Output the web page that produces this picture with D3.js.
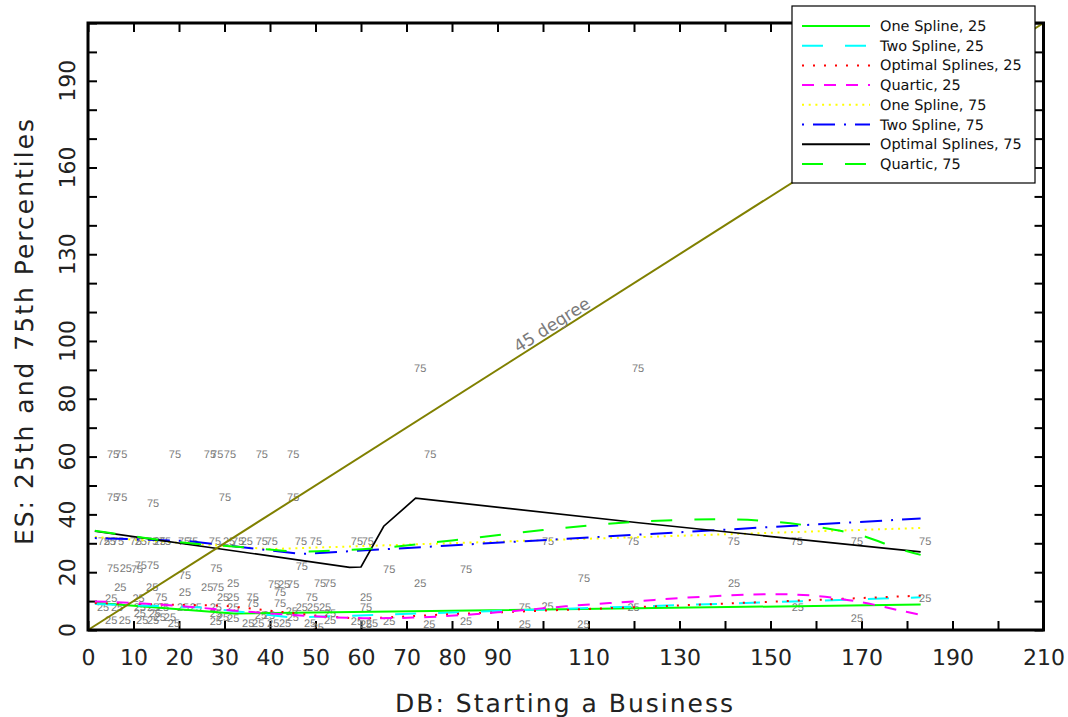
<!DOCTYPE html>
<html><head><meta charset="utf-8">
<script src="https://cdn.jsdelivr.net/npm/d3@7"></script>
<style>body{margin:0;background:#fff} svg{display:block} text{text-rendering:geometricPrecision}</style>
</head><body><svg id="c" width="1068" height="717"></svg>
<script>
// ---------- data ----------
const xTickLabels = [0,10,20,30,40,50,60,70,80,90,110,130,150,170,190,210];
const yTickLabels = [0,20,40,60,80,100,130,160,190];
const xTitle = "DB: Starting a Business";
const yTitle = "ES: 25th and 75th Percentiles";
const legendNames = ["One Spline, 25","Two Spline, 25","Optimal Splines, 25","Quartic, 25",
                     "One Spline, 75","Two Spline, 75","Optimal Splines, 75","Quartic, 75"];

const oneSpline25X = [1.5, 32, 183];
const oneSpline25Y = [9.4, 5.7, 8.8];
const twoSpline25X = [1.5, 25, 45, 183];
const twoSpline25Y = [9.0, 7.8, 4.3, 11.3];
const optSpline25X = [1.5, 30, 50, 60, 80, 127, 183];
const optSpline25Y = [9.3, 8.4, 5.0, 3.9, 5.5, 8.3, 11.9];
const quartic25X = [1.5, 15, 30, 45, 60, 75, 90, 105, 120, 135, 150, 160, 170, 178, 183];
const quartic25Y = [9.9, 8.9, 7.0, 5.2, 4.1, 4.5, 6.1, 8.2, 9.9, 11.5, 12.4, 11.8, 9.6, 6.9, 5.2];
const oneSpline75X = [1.5, 40, 183];
const oneSpline75Y = [32.2, 28.0, 35.3];
const twoSpline75X = [1.5, 22, 47, 183];
const twoSpline75Y = [31.8, 30.8, 26.3, 38.6];
const optSpline75X = [1.5, 57.5, 60, 65, 72, 121, 183];
const optSpline75Y = [34.2, 21.7, 21.8, 35.9, 45.6, 37.1, 27.0];
const quartic75X = [1.5, 20, 35, 45, 55, 65, 80, 100, 120, 140, 150, 160, 170, 178, 183];
const quartic75Y = [34.3, 30.4, 28.5, 27.2, 27.5, 28.5, 31.0, 34.6, 37.4, 38.3, 37.6, 35.7, 32.7, 28.2, 26.0];

const diagonal = [0, 210];

const labels75 = [
 [5.5,60.7],[7.3,60.7],[19.1,60.7],[26.8,60.7],[28.4,60.7],[31.2,60.7],[38.2,60.7],[45.1,60.7],[75.2,60.7],
 [5.5,45.9],[7.3,45.9],[30.1,45.9],[45.1,45.9],[14.3,43.9],
 [73.0,90.7],[120.9,90.7],
 [3.5,30.7],[6.6,30.7],[10.5,30.7],[14.1,30.7],[16.9,30.7],[21.1,30.7],[22.9,30.7],[27.9,30.7],[33.0,30.7],
 [38.2,30.7],[40.4,30.7],[46.8,30.7],[50.1,30.7],[59.1,30.7],[61.5,30.7],[101.1,30.7],[119.8,30.7],
 [141.9,30.7],[155.8,30.7],[169.0,30.7],[184.0,30.7],
 [5.5,21.4],[10.8,21.0],[11.6,22.4],[14.3,22.4],[21.3,19.0],[28.2,21.3],[47.0,22.1],[66.2,21.0],[83.1,21.0],[109.0,17.9],
 [28.6,14.9],[16.1,11.5],[36.2,11.5],[49.2,11.5],[36.2,9.3],[42.2,9.3],[61.1,8.0],[96.0,8.0],
 [40.9,15.9],[45.1,15.9],[51.0,16.2],[53.2,16.2],[42.2,13.2]
];
const labels25 = [
 [4.8,30.7],[11.6,30.7],[15.8,30.7],[31.0,30.7],[34.9,30.7],
 [8.3,21.4],
 [7.1,14.9],[14.1,14.8],[21.3,13.2],[26.2,14.8],[31.9,16.2],[43.1,15.9],[73.0,16.1],[142.0,16.1],
 [5.1,10.9],[11.1,10.9],[29.7,11.5],[31.9,11.5],[61.1,11.5],[184.0,11.1],
 [3.3,8.0],[6.4,8.0],[11.4,8.0],[14.3,8.0],[16.5,8.0],[20.9,8.0],[23.7,8.0],[28.1,8.0],[31.9,8.0],
 [47.0,8.0],[49.5,8.0],[52.1,8.0],[101.0,8.3],[119.9,8.0],[156.0,8.0],[44.8,6.6],
 [11.4,5.7],[14.7,5.7],[28.1,5.9],[53.2,5.8],[38.0,5.3],[39.8,5.3],[45.0,4.6],
 [5.1,3.4],[8.1,3.4],[11.9,3.4],[14.3,3.4],[15.8,4.5],[18.0,4.5],[18.9,2.4],[28.1,2.9],[29.7,4.6],
 [31.9,4.1],[35.2,2.4],[37.4,2.4],[40.7,2.4],[43.3,2.4],[48.8,2.4],[50.5,0.9],[53.2,3.4],[59.1,2.9],
 [61.1,2.1],[62.4,2.4],[66.2,3.1],[75.0,2.1],[83.1,2.9],[96.0,2.1],[108.9,2.1],[169.0,4.0]
];

// ---------- styles ----------
const seriesData = [
 {xs: oneSpline25X, ys: oneSpline25Y, color:"#00ff00", dash:null, w:2, curve:"linear"},
 {xs: twoSpline25X, ys: twoSpline25Y, color:"#00ffff", dash:"21,22", w:2, curve:"linear"},
 {xs: optSpline25X, ys: optSpline25Y, color:"#ff0000", dash:"2,9", w:2, curve:"linear"},
 {xs: quartic25X, ys: quartic25Y, color:"#ff00ff", dash:"12,10", w:2, curve:"smooth"},
 {xs: oneSpline75X, ys: oneSpline75Y, color:"#ffff00", dash:"2,4.7", w:2, curve:"linear"},
 {xs: twoSpline75X, ys: twoSpline75Y, color:"#0000ff", dash:"2,9,22,9", w:2, curve:"linear"},
 {xs: optSpline75X, ys: optSpline75Y, color:"#000000", dash:null, w:1.7, curve:"linear"},
 {xs: quartic75X, ys: quartic75Y, color:"#00ff00", dash:"21,22", w:2, curve:"smooth"}
];

const svg = d3.select("#c");
const x = d3.scaleLinear().domain([0,210]).range([88,1043.5]);
const y = d3.scaleLinear().domain([0,210]).range([630,23]);
const FONT = "DejaVu Sans, sans-serif";

// tick marks on all four sides (inward)
const tickVals = d3.range(0,211,10);
const bottomTicks = svg.append("g").attr("transform","translate(0,630)")
  .call(d3.axisBottom(x).tickValues(tickVals).tickSize(-9).tickFormat(""));
const topTicks = svg.append("g").attr("transform","translate(0,23)")
  .call(d3.axisTop(x).tickValues(tickVals).tickSize(-9).tickFormat(""));
const leftTicks = svg.append("g").attr("transform","translate(88,0)")
  .call(d3.axisLeft(y).tickValues(tickVals).tickSize(-9).tickFormat(""));
const rightTicks = svg.append("g").attr("transform","translate(1043.5,0)")
  .call(d3.axisRight(y).tickValues(tickVals).tickSize(-9).tickFormat(""));
[bottomTicks,topTicks,leftTicks,rightTicks].forEach(g=>{
  g.select(".domain").remove();
  g.selectAll(".tick line").attr("stroke","#000").attr("stroke-width",2);
});

// x tick labels
const xLab = svg.append("g").attr("transform","translate(0,630)")
  .call(d3.axisBottom(x).tickValues(xTickLabels).tickSize(0).tickPadding(19).tickFormat(d3.format("d")));
xLab.select(".domain").remove();
xLab.selectAll("text").attr("font-family",FONT).attr("font-size",22).attr("fill","#222");

// y tick labels (rotated)
svg.append("g").selectAll("text").data(yTickLabels).join("text")
  .attr("transform", d=>`translate(75,${y(d)}) rotate(-90)`)
  .attr("text-anchor","middle").attr("font-family",FONT).attr("font-size",22).attr("fill","#222")
  .text(d=>d);

// titles
svg.append("text").attr("x",565).attr("y",712).attr("text-anchor","middle")
  .attr("font-family",FONT).attr("font-size",25).attr("fill","#222").attr("letter-spacing",2).text(xTitle);
svg.append("text").attr("transform","translate(33,331) rotate(-90)").attr("text-anchor","middle")
  .attr("font-family",FONT).attr("font-size",25).attr("fill","#222").attr("letter-spacing",2).text(yTitle);

// point labels
const lab = svg.append("g").attr("font-family","Liberation Sans, Arial, sans-serif")
  .attr("font-size",11).attr("fill","#7a7a7a").attr("text-anchor","middle");
lab.selectAll("text.l25").data(labels25).join("text").attr("class","l25")
  .attr("x",d=>x(d[0])).attr("y",d=>y(d[1])).attr("dy","0.35em").text("25");
lab.selectAll("text.l75").data(labels75).join("text").attr("class","l75")
  .attr("x",d=>x(d[0])).attr("y",d=>y(d[1])).attr("dy","0.35em").text("75");

// fitted lines
seriesData.forEach(s=>{
  const pts = s.xs.map((v,i)=>[v,s.ys[i]]);
  const line = d3.line().x(d=>x(d[0])).y(d=>y(d[1]))
    .curve(s.curve==="smooth" ? d3.curveCatmullRom.alpha(0.5) : d3.curveLinear);
  svg.append("path").attr("d",line(pts)).attr("fill","none")
    .attr("stroke",s.color).attr("stroke-width",s.w)
    .attr("stroke-dasharray",s.dash);
});

// 45 degree line
svg.append("path").attr("d", d3.line().x(d=>x(d)).y(d=>y(d))(diagonal))
  .attr("stroke","#808000").attr("stroke-width",2).attr("fill","none");
const ang = -Math.atan2(y(0)-y(1), x(1)-x(0))*180/Math.PI;
svg.append("text").attr("transform",`translate(${x(103)},${y(103)}) rotate(${ang}) translate(0,-3)`)
  .attr("text-anchor","middle").attr("font-family",FONT).attr("font-size",17).attr("fill","#7a7a7a")
  .text("45 degree");

// frame
svg.append("rect").attr("x",x(0)).attr("y",y(210)).attr("width",x(210)-x(0)).attr("height",y(0)-y(210))
  .attr("fill","none").attr("stroke","#000").attr("stroke-width",3);

// legend
const lg = svg.append("g");
lg.append("rect").attr("x",792).attr("y",6).attr("width",243).attr("height",177)
  .attr("fill","#fff").attr("stroke","#000").attr("stroke-width",1.2);
legendNames.forEach((name,i)=>{
  const s = seriesData[i];
  const yy = 26 + i*19.7;
  lg.append("line").attr("x1",802).attr("x2",870).attr("y1",yy).attr("y2",yy)
    .attr("stroke",s.color).attr("stroke-width",2).attr("stroke-dasharray",s.dash);
  lg.append("text").attr("x",880).attr("y",yy).attr("dy","0.35em")
    .attr("font-family",FONT).attr("font-size",14.5).attr("fill","#111").text(name);
});
</script></body></html>
